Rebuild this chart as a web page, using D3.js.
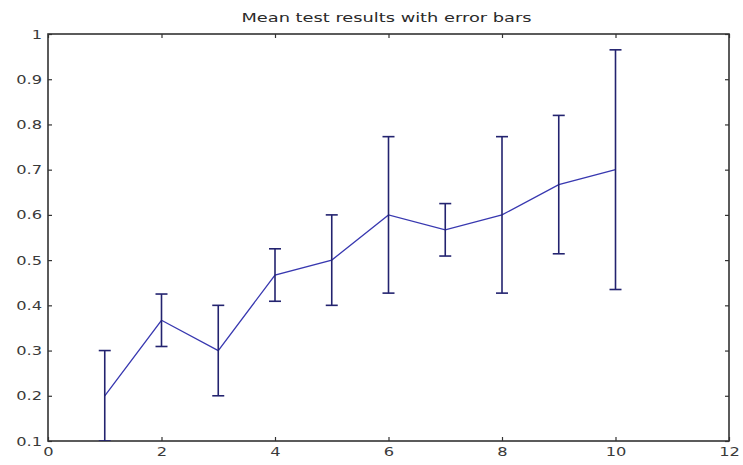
<!DOCTYPE html>
<html>
<head>
<meta charset="utf-8">
<script src="https://cdn.jsdelivr.net/npm/d3@7"></script>
<style>
  body { margin: 0; background: #fff; }
  svg { display: block; }
</style>
</head>
<body>
<div id="chart"></div>
<script>
const trials = [1, 2, 3, 4, 5, 6, 7, 8, 9, 10];
const means = [0.2, 0.367, 0.3, 0.467, 0.5, 0.6, 0.567, 0.6, 0.667, 0.7];
const errors = [0.1, 0.058, 0.1, 0.058, 0.1, 0.173, 0.058, 0.173, 0.153, 0.265];
const xTicks = [0, 2, 4, 6, 8, 10, 12];
const yTicks = [0.1, 0.2, 0.3, 0.4, 0.5, 0.6, 0.7, 0.8, 0.9, 1];
const title = "Mean test results with error bars";

const LINE_COLOR = "#3838b0";
const BAR_COLOR = "#23236f";
const AXIS_COLOR = "#333";

const totalWidth = 743;
const totalHeight = 465;
const margin = { top: 34, right: 14, bottom: 24, left: 48 };
const width = totalWidth - margin.left - margin.right;
const height = totalHeight - margin.top - margin.bottom;

const data = trials.map((t, i) => ({ trial: t, mean: means[i], err: errors[i] }));

const x = d3.scaleLinear().domain([0, 12]).range([0, width]);
const y = d3.scaleLinear().domain([0.1, 1]).range([height, 0]);

const svg = d3.select("#chart")
    .append("svg")
    .attr("width", totalWidth)
    .attr("height", totalHeight);

const g = svg.append("g")
    .attr("transform", "translate(" + margin.left + "," + margin.top + ")");

g.append("defs").append("clipPath")
    .attr("id", "plotClip")
    .append("rect")
    .attr("width", width)
    .attr("height", height);

// the picture is stretched sideways, so the text is widened to match
const fontFamily = "'DejaVu Sans', Verdana, sans-serif";
const STRETCH = 1.3;

function widen(sel, factor) {
    sel.each(function () {
        const w = this.getComputedTextLength();
        d3.select(this)
            .attr("textLength", w * factor)
            .attr("lengthAdjust", "spacingAndGlyphs");
    });
}

// inward ticks on all four sides, labels only on bottom and left
const xAxis = d3.axisBottom(x).tickValues(xTicks).tickSize(-4).tickPadding(6).tickSizeOuter(0);
const yAxis = d3.axisLeft(y).tickValues(yTicks).tickSize(-4).tickPadding(6).tickSizeOuter(0)
    .tickFormat(d => d3.format("")(+d.toFixed(1)));
const xTop = d3.axisTop(x).tickValues(xTicks).tickSize(-4).tickFormat("").tickSizeOuter(0);
const yRight = d3.axisRight(y).tickValues(yTicks).tickSize(-4).tickFormat("").tickSizeOuter(0);

const axes = [
    g.append("g").attr("transform", "translate(0," + height + ")").call(xAxis),
    g.append("g").call(yAxis),
    g.append("g").call(xTop),
    g.append("g").attr("transform", "translate(" + width + ",0)").call(yRight)
];

axes.forEach(a => {
    a.select(".domain").remove();
    a.selectAll(".tick line").attr("stroke", AXIS_COLOR).attr("stroke-width", 1.2);
    a.selectAll(".tick text")
        .attr("fill", "#3a3a3a")
        .style("font-family", fontFamily)
        .style("font-size", "12.5px")
        .call(widen, STRETCH);
});

g.append("rect")
    .attr("width", width)
    .attr("height", height)
    .attr("fill", "none")
    .attr("stroke", AXIS_COLOR)
    .attr("stroke-width", 1.6);

const plot = g.append("g").attr("clip-path", "url(#plotClip)");

const line = d3.line()
    .x(d => x(d.trial))
    .y(d => y(d.mean));

plot.append("path")
    .datum(data)
    .attr("d", line)
    .attr("fill", "none")
    .attr("stroke", LINE_COLOR)
    .attr("stroke-width", 1.3);

const capHalf = 6;
const bars = plot.selectAll("g.errbar")
    .data(data)
    .join("g")
    .attr("class", "errbar")
    .attr("stroke", BAR_COLOR)
    .attr("stroke-width", 1.6);

bars.append("line")
    .attr("x1", d => x(d.trial))
    .attr("x2", d => x(d.trial))
    .attr("y1", d => y(d.mean - d.err))
    .attr("y2", d => y(d.mean + d.err));

bars.append("line")
    .attr("x1", d => x(d.trial) - capHalf)
    .attr("x2", d => x(d.trial) + capHalf)
    .attr("y1", d => y(d.mean + d.err))
    .attr("y2", d => y(d.mean + d.err));

bars.append("line")
    .attr("x1", d => x(d.trial) - capHalf)
    .attr("x2", d => x(d.trial) + capHalf)
    .attr("y1", d => y(d.mean - d.err))
    .attr("y2", d => y(d.mean - d.err));

svg.append("text")
    .attr("x", margin.left + width / 2 - 2)
    .attr("y", 22)
    .attr("text-anchor", "middle")
    .attr("fill", "#2a2a2a")
    .style("font-family", fontFamily)
    .style("font-size", "13px")
    .text(title)
    .attr("textLength", 290)
    .attr("lengthAdjust", "spacingAndGlyphs");
</script>
</body>
</html>
